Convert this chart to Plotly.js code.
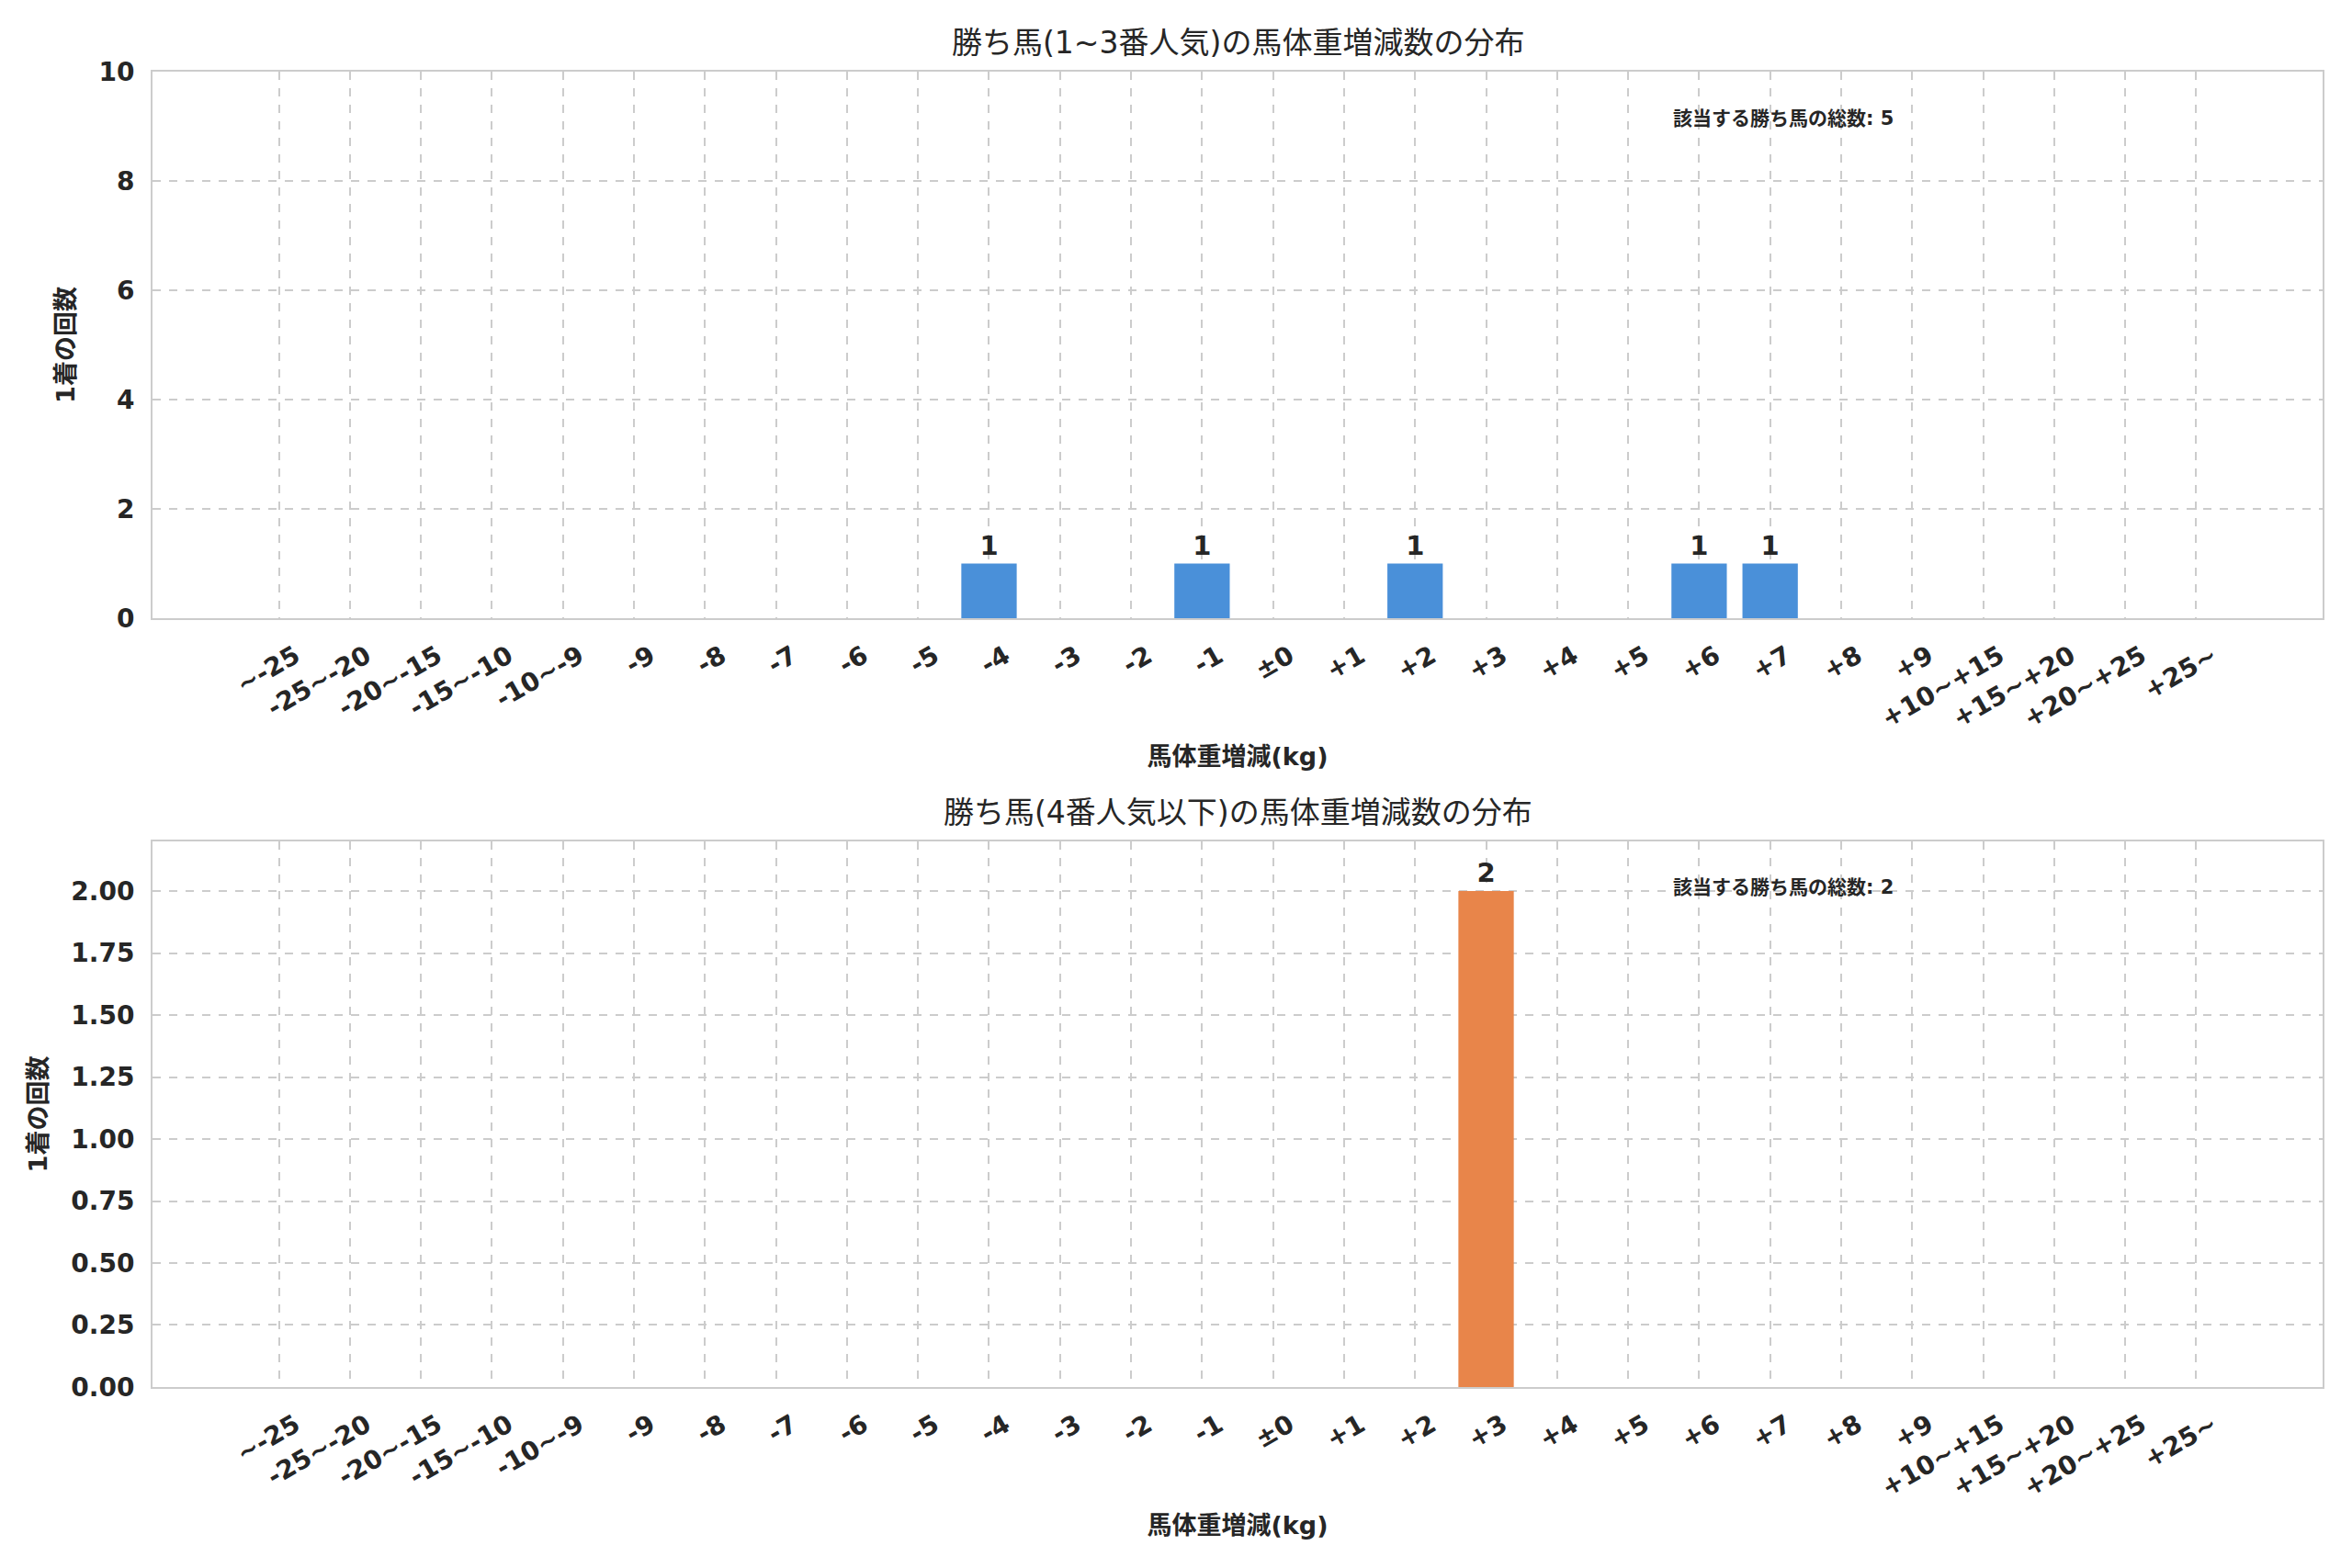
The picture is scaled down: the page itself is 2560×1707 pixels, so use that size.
<!DOCTYPE html>
<html>
<head>
<meta charset="utf-8">
<script src="https://cdn.plot.ly/plotly-3.0.1.min.js"></script>
<style>
  body { margin: 0; background: #fff; }
  #chart { width: 2560px; height: 1707px; }
</style>
</head>
<body>
<div id="chart"></div>
<script>
// bins of weight change (kg)
var categories = ['~-25', '-25~-20', '-20~-15', '-15~-10', '-10~-9', '-9', '-8', '-7', '-6', '-5',
    '-4', '-3', '-2', '-1', '±0', '+1', '+2', '+3', '+4', '+5', '+6', '+7', '+8', '+9',
    '+10~+15', '+15~+20', '+20~+25', '+25~'];

var countsTop    = [0,0,0,0,0,0,0,0,0,0, 1,0,0,1,0,0,1,0,0,0, 1,1,0,0, 0,0,0,0];
var countsBottom = [0,0,0,0,0,0,0,0,0,0, 0,0,0,0,0,0,0,2,0,0, 0,0,0,0, 0,0,0,0];

var titleTop = '勝ち馬(1~3番人気)の馬体重増減数の分布';
var titleBottom = '勝ち馬(4番人気以下)の馬体重増減数の分布';
var totalTop = 5;
var totalBottom = 2;

var fontFam = 'DejaVu Sans, Noto Sans CJK JP, sans-serif';
var ink = '#262626';
var gridc = '#cccccc';

function labels(vals) {
    return vals.map(function(v) { return v > 0 ? String(v) : ''; });
}

var trace1 = {
    x: categories,
    y: countsTop,
    type: 'bar',
    width: 0.78,
    text: labels(countsTop),
    textposition: 'outside',
    cliponaxis: false,
    textfont: { family: fontFam, size: 29, color: ink, weight: 'bold' },
    marker: { color: '#4a90d9' },
    xaxis: 'x',
    yaxis: 'y',
    hoverinfo: 'x+y'
};

var trace2 = {
    x: categories,
    y: countsBottom,
    type: 'bar',
    width: 0.78,
    text: labels(countsBottom),
    textposition: 'outside',
    cliponaxis: false,
    textfont: { family: fontFam, size: 29, color: ink, weight: 'bold' },
    marker: { color: '#e8854a' },
    xaxis: 'x2',
    yaxis: 'y2',
    hoverinfo: 'x+y'
};

function xax(anchor) {
    return {
        type: 'category',
        anchor: anchor,
        range: [-1.78, 28.78],
        tickangle: -30,
        tickfont: { family: fontFam, size: 28, color: ink, weight: 'bold' },
        showgrid: true,
        gridcolor: gridc,
        griddash: 'dash',
        gridwidth: 1.6,
        showline: true,
        linecolor: gridc,
        linewidth: 2,
        mirror: true,
        ticks: '',
        ticklabelstandoff: 12,
        ticklabelshift: 18,
        title: {
            text: '馬体重増減(kg)',
            font: { family: fontFam, size: 27, color: ink, weight: 'bold' },
            standoff: 16
        }
    };
}

function yax(anchor, domain, range, dtick, fmt) {
    return {
        anchor: anchor,
        domain: domain,
        range: range,
        dtick: dtick,
        tickformat: fmt,
        tickfont: { family: fontFam, size: 28, color: ink, weight: 'bold' },
        showgrid: true,
        gridcolor: gridc,
        griddash: 'dash',
        gridwidth: 1.6,
        zeroline: false,
        showline: true,
        linecolor: gridc,
        linewidth: 2,
        mirror: true,
        ticks: '',
        ticklabelstandoff: 12,
        title: {
            text: '1着の回数',
            font: { family: fontFam, size: 27, color: ink, weight: 'bold' },
            standoff: 18
        }
    };
}

var layout = {
    width: 2560,
    height: 1707,
    paper_bgcolor: '#ffffff',
    plot_bgcolor: '#ffffff',
    showlegend: false,
    margin: { l: 166, r: 32, t: 78, b: 197 },
    xaxis: xax('y'),
    yaxis: yax('x', [0.5845, 1], [0, 10], 2, 'd'),
    xaxis2: xax('y2'),
    yaxis2: yax('x2', [0, 0.4148], [0, 2.2], 0.25, '.2f'),
    annotations: [
        {
            text: titleTop,
            xref: 'paper', yref: 'paper',
            x: 0.5, y: 1, yshift: 10,
            xanchor: 'center', yanchor: 'bottom',
            showarrow: false,
            font: { family: fontFam, size: 33, color: ink }
        },
        {
            text: titleBottom,
            xref: 'paper', yref: 'paper',
            x: 0.5, y: 0.4148, yshift: 10,
            xanchor: 'center', yanchor: 'bottom',
            showarrow: false,
            font: { family: fontFam, size: 33, color: ink }
        },
        {
            text: '該当する勝ち馬の総数: ' + totalTop,
            xref: 'x domain', yref: 'y domain',
            x: 0.7, y: 0.915,
            xanchor: 'left', yanchor: 'middle',
            showarrow: false,
            font: { family: fontFam, size: 21, color: ink, weight: 'bold' }
        },
        {
            text: '該当する勝ち馬の総数: ' + totalBottom,
            xref: 'x2 domain', yref: 'y2 domain',
            x: 0.7, y: 0.915,
            xanchor: 'left', yanchor: 'middle',
            showarrow: false,
            font: { family: fontFam, size: 21, color: ink, weight: 'bold' }
        }
    ]
};

Plotly.newPlot('chart', [trace1, trace2], layout, { displayModeBar: false });
</script>
</body>
</html>
